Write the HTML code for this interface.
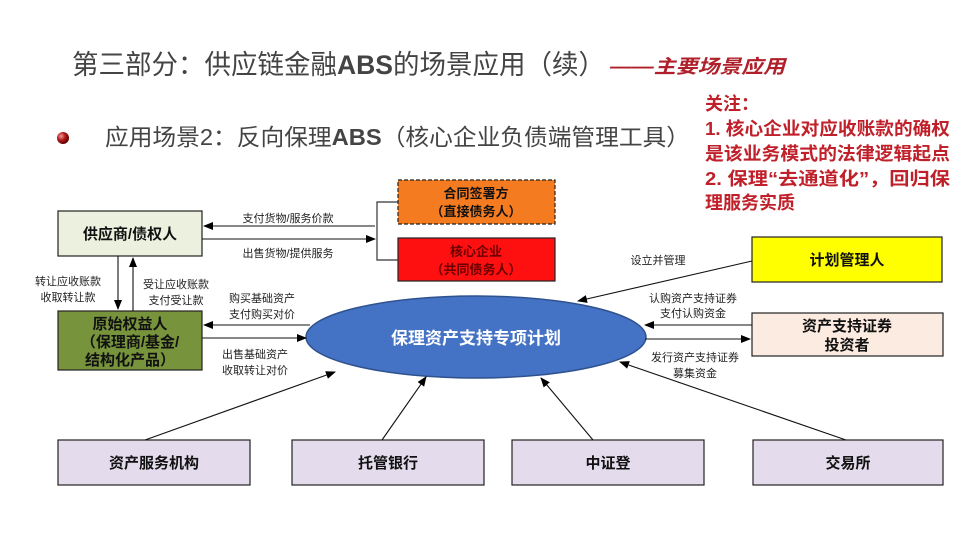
<!DOCTYPE html>
<html><head><meta charset="utf-8"><style>
body{margin:0;width:960px;height:540px;background:#fff;overflow:hidden}
svg text{font-family:"Liberation Sans","Noto Sans CJK SC",sans-serif}
</style></head><body>
<svg width="960" height="540" viewBox="0 0 960 540" xmlns="http://www.w3.org/2000/svg">
<defs>
<marker id="a" markerWidth="10" markerHeight="8" refX="9" refY="4" orient="auto" markerUnits="userSpaceOnUse"><path d="M0,0 L10,4 L0,8 z" fill="#000"/></marker>
<radialGradient id="ball" cx="0.35" cy="0.35" r="0.7"><stop offset="0" stop-color="#f59a9a"/><stop offset="0.5" stop-color="#b01818"/><stop offset="1" stop-color="#500"/></radialGradient>
</defs>
<text x="72" y="74" font-size="27" fill="#444" textLength="533" lengthAdjust="spacingAndGlyphs">第三部分：供应链金融<tspan font-weight="bold">ABS</tspan>的场景应用（续）</text>
<text x="610" y="73" font-size="19" fill="#b0202a" font-style="italic" font-weight="bold" textLength="175" lengthAdjust="spacingAndGlyphs">——主要场景应用</text>
<circle cx="63" cy="138" r="6" fill="url(#ball)"/>
<text x="105" y="145" font-size="23" fill="#444" textLength="585" lengthAdjust="spacingAndGlyphs">应用场景2：反向保理<tspan font-weight="bold">ABS</tspan>（核心企业负债端管理工具）</text>
<g font-size="18" fill="#c0202a" font-weight="bold">
<text x="705" y="110">关注：</text>
<text x="705" y="135" textLength="245" lengthAdjust="spacingAndGlyphs">1. 核心企业对应收账款的确权</text>
<text x="705" y="160" textLength="245" lengthAdjust="spacingAndGlyphs">是该业务模式的法律逻辑起点</text>
<text x="705" y="185" textLength="245" lengthAdjust="spacingAndGlyphs">2. 保理“去通道化”，回归保</text>
<text x="705" y="209">理服务实质</text>
</g>
<g stroke="#222" stroke-width="1.2">
<rect x="58" y="211" width="144" height="45" fill="#ebf1de"/>
<rect x="58" y="311" width="144" height="59" fill="#77933c"/>
<rect x="398" y="180" width="157" height="44" fill="#f47b20" stroke-dasharray="4,2"/>
<rect x="398" y="238" width="157" height="43" fill="#ff1010"/>
<rect x="752" y="237" width="190" height="45" fill="#ffff00"/>
<rect x="752" y="313" width="191" height="43" fill="#fcebe0"/>
<rect x="58" y="440" width="192" height="45" fill="#e4dcec"/>
<rect x="292" y="440" width="192" height="45" fill="#e4dcec"/>
<rect x="512" y="440" width="192" height="45" fill="#e4dcec"/>
<rect x="753" y="440" width="190" height="45" fill="#e4dcec"/>
</g>
<ellipse cx="476" cy="337" rx="170" ry="41" fill="#4472c4" stroke="#2f528f" stroke-width="1.5"/>
<g stroke="#333" stroke-width="1.2" fill="none">
<path d="M398,202 H377 V260 H398"/>
</g>
<g stroke="#111" stroke-width="1.1" marker-end="url(#a)">
<line x1="375" y1="226" x2="204" y2="226"/>
<line x1="202" y1="239" x2="375" y2="239"/>
<line x1="118" y1="256" x2="118" y2="309"/>
<line x1="133" y1="311" x2="133" y2="258"/>
<line x1="310" y1="325" x2="204" y2="325"/>
<line x1="202" y1="338" x2="306" y2="338"/>
<line x1="752" y1="261" x2="578" y2="301"/>
<line x1="752" y1="325" x2="645" y2="325"/>
<line x1="645" y1="339" x2="750" y2="339"/>
<line x1="846" y1="440" x2="620" y2="362"/>
<line x1="145" y1="440" x2="335" y2="372"/>
<line x1="382" y1="440" x2="426" y2="377"/>
<line x1="593" y1="440" x2="541" y2="378"/>
</g>
<g font-size="15" font-weight="bold" fill="#111" text-anchor="middle">
<text x="130" y="239">供应商/债权人</text>
<text x="130" y="329">原始权益人</text>
<text x="130" y="347">（保理商/基金/</text>
<text x="130" y="365">结构化产品）</text>
<text x="476" y="198" font-size="13">合同签署方</text>
<text x="476" y="216" font-size="13">（直接债务人）</text>
<text x="476" y="256" font-size="13" fill="#6a0000">核心企业</text>
<text x="476" y="274" font-size="13" fill="#6a0000">（共同债务人）</text>
<text x="847" y="265">计划管理人</text>
<text x="847" y="331">资产支持证券</text>
<text x="847" y="350">投资者</text>
<text x="154" y="468">资产服务机构</text>
<text x="388" y="468">托管银行</text>
<text x="608" y="468">中证登</text>
<text x="848" y="468">交易所</text>
<text x="476" y="344" font-size="17" fill="#fff">保理资产支持专项计划</text>
</g>
<g font-size="11" fill="#222" text-anchor="middle">
<text x="288" y="222">支付货物/服务价款</text>
<text x="288" y="257">出售货物/提供服务</text>
<text x="68" y="285">转让应收账款</text>
<text x="68" y="301">收取转让款</text>
<text x="176" y="288">受让应收账款</text>
<text x="176" y="304">支付受让款</text>
<text x="262" y="302">购买基础资产</text>
<text x="262" y="318">支付购买对价</text>
<text x="255" y="358">出售基础资产</text>
<text x="255" y="374">收取转让对价</text>
<text x="658" y="264">设立并管理</text>
<text x="693" y="302">认购资产支持证券</text>
<text x="693" y="317">支付认购资金</text>
<text x="695" y="361">发行资产支持证券</text>
<text x="695" y="377">募集资金</text>
</g>
</svg>
</body></html>
